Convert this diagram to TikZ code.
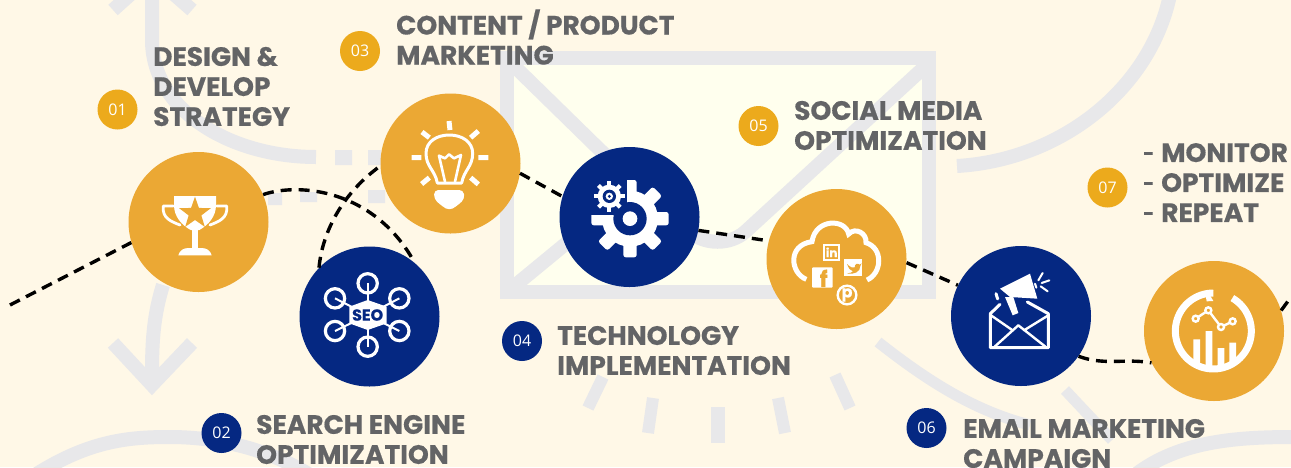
\documentclass[tikz,border=0pt]{standalone}
\usepackage{fontspec}
\setmainfont{Poppins}[BoldFeatures={FakeBold=0.5}]
\newfontfamily\numfont{Open Sans}
\usetikzlibrary{calc}
\definecolor{bgc}{HTML}{FFF8E7}
\definecolor{envc}{HTML}{FFFFEE}
\definecolor{decoc}{HTML}{E8E8EA}
\definecolor{orc}{HTML}{EBA834}
\definecolor{orb}{HTML}{ECAA1C}
\definecolor{nvc}{HTML}{052882}
\definecolor{txc}{HTML}{636466}
\newcommand\smallhy{\raisebox{1.8pt}{\fontsize{19}{30}\bfseries\selectfont -}\hspace{7pt}}
\tikzset{
  bigdot/.style={circle,minimum size=140pt,inner sep=0pt,fill=#1},
  badge/.style={circle,minimum size=40pt,inner sep=0pt,fill=#1,text=white,font=\numfont\fontsize{16}{16}\selectfont},
  lab/.style={anchor=west,inner sep=0pt,align=left,text=txc,font=\fontsize{26.5}{30}\bfseries\selectfont},
  deco/.style={draw=decoc,line width=14pt},
  conn/.style={draw=black,line width=3.4pt,dash pattern=on 11pt off 7pt},
  zc/.style 2 args={shift={(#1,#2)},x=0.33333pt,y=-0.33333pt},
  wl/.style={draw=white,line width=#1,line cap=round,line join=round},
}
\begin{document}
\begin{tikzpicture}[x=1pt,y=-1pt]
\useasboundingbox (0,0) rectangle (1291,467);
\clip (0,0) rectangle (1291,467);
\fill[bgc] (0,0) rectangle (1291,467);
% background decoration
\fill[envc] (500,51) rectangle (936,299);
\draw[deco] (507,58) rectangle (929,292);
\draw[deco,line join=round] (510,62) -- (600,150) -- (690,232) .. controls (705,245) and (730,245) .. (745,232) -- (930,62);
\draw[deco] (512,288) -- (580,232);
\draw[deco] (152,-25) -- (152,40) .. controls (152,110) and (230,157) .. (316,157);
\draw[deco] (113,10) -- (152,-25) -- (192,10);
\fill[decoc] (335,150) rectangle (352,165) (368,150) rectangle (381,165);
\fill[decoc] (268,193) rectangle (282,205) (300,192) rectangle (317,202) (368,190) rectangle (385,203);
\draw[deco] (163,285) .. controls (152,320) and (152,350) .. (152,380);
\draw[deco] (113,343) -- (152,385) -- (192,343);
\draw[deco] (35,475) .. controls (90,440) and (130,437) .. (170,437) .. controls (220,437) and (270,450) .. (310,475);
\draw[deco] (957,166) .. controls (1060,160) and (1150,90) .. (1170,-5);
\draw[deco,line width=11pt] (878,342) .. controls (920,375) and (970,410) .. (1030,425);
\draw[deco,line width=11pt] (1065,390) -- (1112,440);
\draw[deco] (1135,475) .. controls (1180,440) and (1240,437) .. (1295,437);
\draw[deco,line width=12pt] (603,377) -- (588,408);
\draw[deco,line width=12pt] (653,398) -- (648,433);
\draw[deco,line width=14pt] (718,407) -- (718,443);
\draw[deco,line width=12pt] (778,398) -- (785,433);
\draw[deco,line width=12pt] (835,375) -- (850,408);
% circles
\node[bigdot=orc] (n1) at (198.5,222) {};
\node[bigdot=nvc] (n2) at (369.5,316.5) {};
\node[bigdot=orc] (n3) at (450.5,163.5) {};
\node[bigdot=nvc] (n4) at (629.5,217) {};
\node[bigdot=orc] (n5) at (836.5,259) {};
\node[bigdot=nvc] (n6) at (1021,316) {};
\node[bigdot=orc] (n7) at (1214,331) {};
% connectors
\coordinate (startp) at (10,305);
\coordinate (endp) at (1291,297);
\draw[conn] (startp) -- (n1.197);
\draw[conn] (n1.23) .. controls (300,182) and (375,190) .. (n2.50);
\draw[conn] (n2.136) .. controls (322,235) and (340,195) .. (n3.182);
\draw[conn] (n3.-8) -- (n4.163);
\draw[conn] (n4.-11) -- (n5.165);
\draw[conn] (n5.-3) -- (n6.154);
\draw[conn] (n6.-35) .. controls (1105,366) and (1125,358) .. (n7.207);
\draw[conn] (n7.17) -- (endp);
% badges
\node[badge=orb] (b1) at (117.5,109.5) {01};
\node[badge=nvc] (b2) at (221.5,433) {02};
\node[badge=orb] (b3) at (360,51) {03};
\node[badge=nvc] (b4) at (522,341) {04};
\node[badge=orb] (b5) at (758.5,126) {05};
\node[badge=nvc] (b6) at (926.5,428) {06};
\node[badge=orb] (b7) at (1107.5,187.5) {07};
% labels
\node[lab] (l1) at (153,86.5) {DESIGN \&\\DEVELOP\\STRATEGY};
\node[lab] (l2) at (256,439.5) {SEARCH ENGINE\\OPTIMIZATION};
\node[lab] (l3) at (396,37) {CONTENT / PRODUCT\\MARKETING};
\node[lab] (l4) at (557,350.5) {TECHNOLOGY\\IMPLEMENTATION};
\node[lab] (l5) at (794,125.5) {SOCIAL MEDIA\\OPTIMIZATION};
\node[lab] (l6) at (963,443.5) {EMAIL MARKETING\\CAMPAIGN};
\node[lab] (l7) at (1143,182.5) {\smallhy MONITOR\\\smallhy OPTIMIZE\\\smallhy REPEAT};
% trophy
\begin{scope}[zc={130}{150}]
\fill[white] (132,138) -- (258,138) -- (258,165) .. controls (258,200) and (235,225) .. (208,240) -- (182,240) .. controls (155,225) and (132,200) .. (132,165) -- cycle;
\draw[wl=2.8pt] (130,168) -- (100,168) .. controls (95,205) and (125,215) .. (150,225);
\draw[wl=2.8pt] (260,168) -- (290,168) .. controls (295,205) and (265,215) .. (240,225);
\fill[white] (185,238) rectangle (205,296);
\fill[white] (145,316) .. controls (148,302) and (160,294) .. (175,294) -- (215,294) .. controls (230,294) and (242,302) .. (245,316) -- cycle;
\fill[orc] plot[samples at={0,...,9}] ({195+(mod(\x,2)==0?50:20)*cos(-90+36*\x)},{190+(mod(\x,2)==0?50:20)*sin(-90+36*\x)}) -- cycle;
\end{scope}
% SEO
\begin{scope}[zc={300}{245}]
\foreach \a/\b in {203/115,105/160,105/258,203/305,298/258,298/160}{
  \draw[white,line width=2pt] (203,210) -- (\a,\b);
  \draw[white,line width=3.2pt] (\a,\b) circle[radius=29];
}
\fill[white] (148,185) -- (203,165) -- (260,185) -- (260,235) -- (203,255) -- (148,235) -- cycle;
\node[text=nvc,inner sep=0pt,font=\fontsize{16}{16}\bfseries\selectfont] (seo) at (203,210) {SEO};
\end{scope}
% bulb
\begin{scope}[zc={380}{95}]
\draw[wl=3pt] (172,264) .. controls (165,225) and (138,215) .. (138,175) .. controls (138,140) and (170,120) .. (208,120) .. controls (245,120) and (278,140) .. (278,175) .. controls (278,215) and (252,225) .. (245,264) -- cycle;
\draw[wl=2.6pt] (195,260) -- (177,182) -- (195,190) -- (207,178) -- (222,190) -- (243,180) -- (225,260);
\fill[white,rounded corners=4pt] (163,285) -- (250,285) -- (254,312) -- (228,335) -- (208,346) -- (188,335) -- (162,312) -- cycle;
\draw[white,line width=5pt] (207,78) -- (210,105) (126,111) -- (148,128) (95,188) -- (124,188) (125,267) -- (148,248) (272,128) -- (295,108) (295,188) -- (325,188) (272,248) -- (295,268);
\end{scope}
% gear
\begin{scope}[zc={560}{148}]
\foreach \t in {0,45,...,315}{
  \fill[white,rounded corners=2.5pt,rotate around={\t:(210,212)}] (210,192) rectangle (326,232);
}
\fill[white] (210,212) circle[radius=84];
\fill[nvc] (70,70) rectangle (200,200);
\fill[nvc] (210,212) circle[radius=50];
\fill[white] (210,212) circle[radius=22];
\foreach \t in {0,45,...,315}{
  \draw[white,line width=4pt] (148,145) -- ++(\t:46);
}
\fill[white] (148,145) circle[radius=35];
\fill[nvc] (148,145) circle[radius=20];
\fill[white] (148,145) circle[radius=11];
\fill[nvc] (148,145) circle[radius=5];
\end{scope}
% cloud
\begin{scope}[zc={767}{190}]
\draw[white,line width=5pt] (118,268) .. controls (70,250) and (60,165) .. (135,155) .. controls (145,85) and (235,85) .. (245,132) .. controls (265,110) and (300,130) .. (297,158) .. controls (350,175) and (345,250) .. (300,270);
\fill[white,rounded corners=1pt] (135,232) rectangle (197,293);
\node[text=orc,inner sep=0pt,font=\fontsize{22}{22}\bfseries\selectfont] (fb) at (170,265) {f};
\draw[white,line width=2pt] (171,166) rectangle (217,210);
\node[text=white,inner sep=0pt,font=\fontsize{12}{12}\bfseries\selectfont] (li) at (194,187) {in};
\fill[white] (230,208) rectangle (285,258);
\fill[orc] (240,222) .. controls (250,232) and (258,235) .. (263,232) .. controls (263,222) and (272,218) .. (278,224) -- (284,220) -- (280,228) .. controls (280,245) and (262,255) .. (240,250) .. controls (250,250) and (254,247) .. (258,244) .. controls (250,243) and (245,235) .. (240,222) -- cycle;
\draw[white,line width=2.4pt] (240,315) circle[radius=28];
\node[text=white,inner sep=0pt,font=\fontsize{16}{16}\bfseries\selectfont] (pin) at (240,315) {p};
\end{scope}
% mail
\begin{scope}[zc={950}{247}]
\draw[wl=3pt] (150,172) -- (121,200) -- (121,302) -- (295,302) -- (295,200) -- (232,165);
\draw[wl=2.4pt] (123,205) -- (188,250) (295,205) -- (222,250) (135,298) -- (205,235) -- (285,298);
\fill[white] (150,125) -- (240,80) -- (262,155) -- (180,150) -- cycle;
\fill[white] (165,150) -- (188,205) -- (205,198) -- (190,150) -- cycle;
\draw[white,line width=3pt,line cap=round] (138,140) -- (143,156);
\draw[white,line width=2pt,line cap=round] (265,100) -- (278,78) (275,108) -- (298,100) (272,118) -- (293,133) (255,110) -- (259,122);
\end{scope}
% chart
\begin{scope}[zc={1145}{262}]
\draw[white,line width=7pt] plot[smooth,samples=70,domain=60:-270] ({205+114*cos(\x)},{207-114*sin(\x)});
\fill[white] (205,85) -- (195,100) -- (205,117) -- (185,118) -- (180,90) -- cycle;
\fill[white] (145,232) rectangle (165,305) (182,207) rectangle (202,318) (218,258) rectangle (238,318) (253,242) rectangle (273,305);
\draw[white,line width=2.4pt] (152,170) -- (190,145) -- (228,195) -- (263,178);
\foreach \a/\b in {152/170,190/145,228/195,263/178}{
  \draw[white,fill=orc,line width=2.4pt] (\a,\b) circle[radius=9];
}
\end{scope}
\end{tikzpicture}
\end{document}
